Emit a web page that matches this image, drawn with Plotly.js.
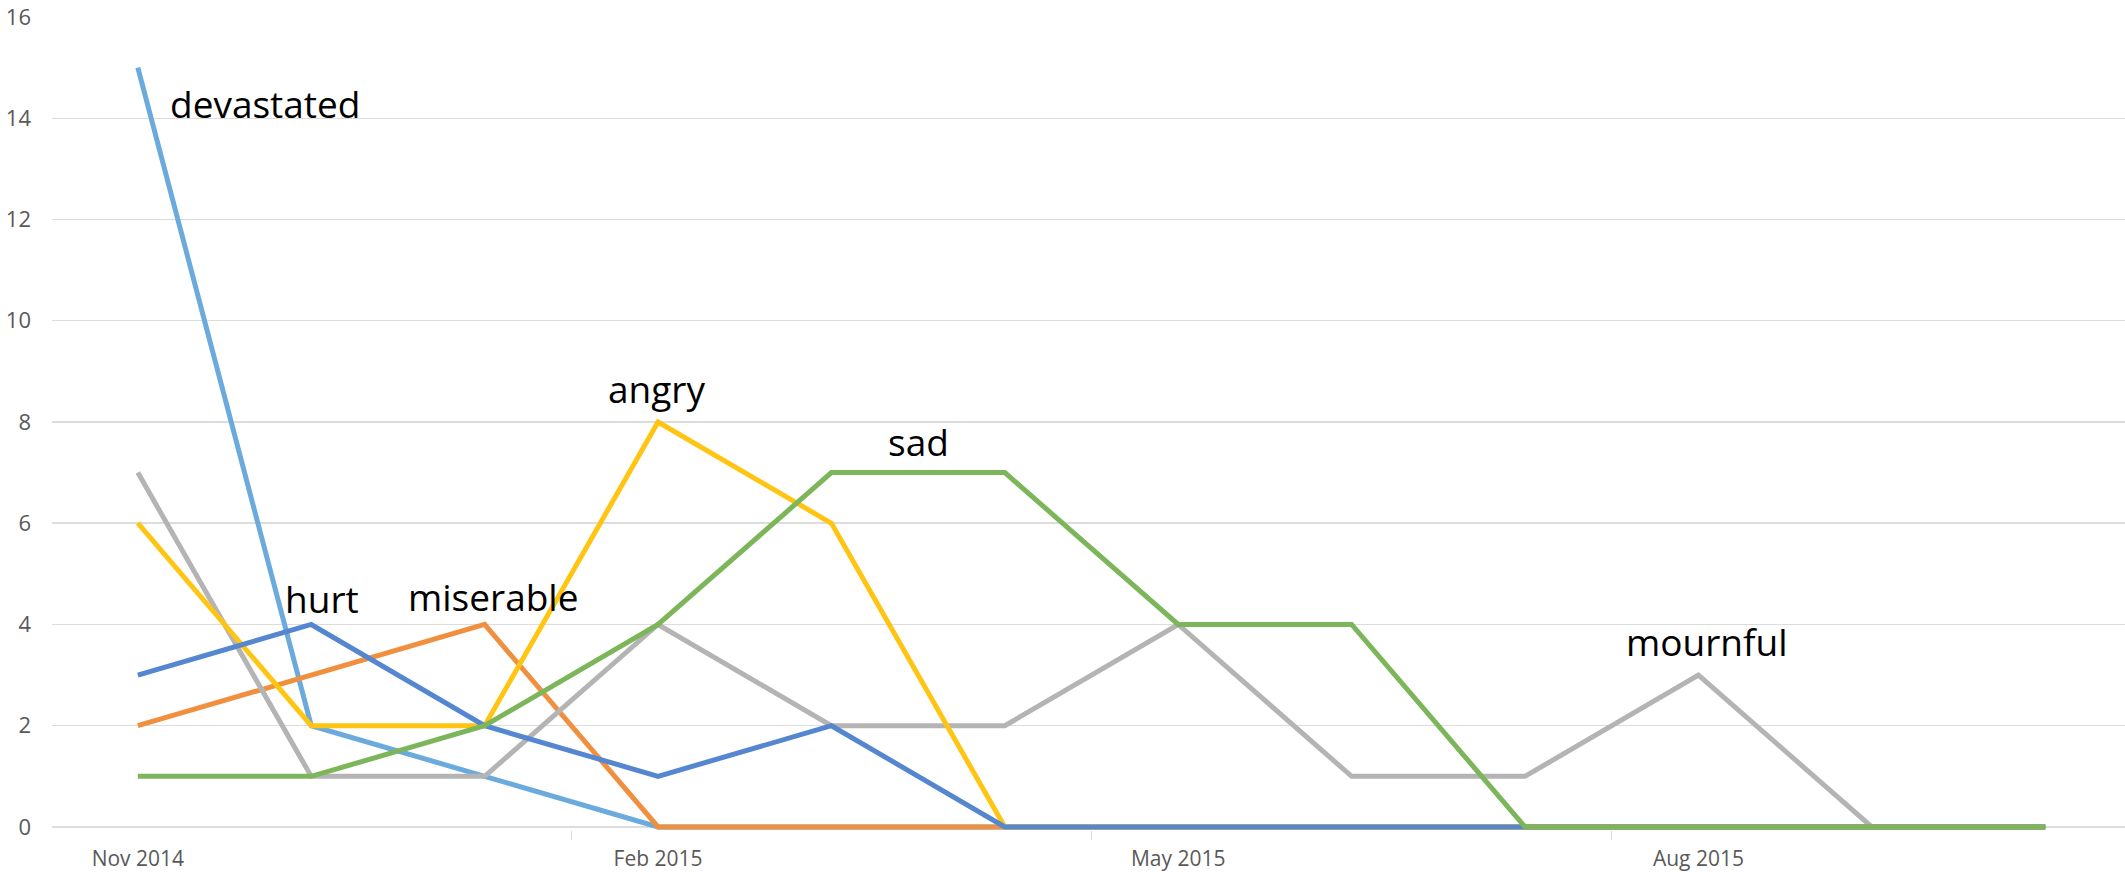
<!DOCTYPE html>
<html>
<head>
<meta charset="utf-8">
<script src="https://cdn.plot.ly/plotly-3.0.1.min.js"></script>
<style>html,body{margin:0;padding:0;background:#fff;}#chart{width:2125px;height:872px;}</style>
</head>
<body>
<div id="chart"></div>
<script>
// Months (index 0 = Nov 2014 ... 11 = Oct 2015)
var months = ["Nov 2014","Dec 2014","Jan 2015","Feb 2015","Mar 2015","Apr 2015","May 2015","Jun 2015","Jul 2015","Aug 2015","Sep 2015","Oct 2015"];
var tickLabelIdx = [0, 3, 6, 9];
var tickLabels = ["Nov 2014", "Feb 2015", "May 2015", "Aug 2015"];

var devastated = [15, 2, 1, 0, 0, 0, 0, 0, 0, 0, 0, 0];
var miserable  = [2, 3, 4, 0, 0, 0, 0, 0, 0, 0, 0, 0];
var mournful   = [7, 1, 1, 4, 2, 2, 4, 1, 1, 3, 0, 0];
var angry      = [6, 2, 2, 8, 6, 0, 0, 0, 0, 0, 0, 0];
var hurt       = [3, 4, 2, 1, 2, 0, 0, 0, 0, 0, 0, 0];
var sad        = [1, 1, 2, 4, 7, 7, 4, 4, 0, 0, 0, 0];

var seriesNames = ["devastated", "miserable", "mournful", "angry", "hurt", "sad"];
var seriesData = [devastated, miserable, mournful, angry, hurt, sad];
var seriesColors = ["#6AAADD", "#F0903F", "#B4B4B4", "#FFC512", "#5586D0", "#7DB65A"];

// label positions (x = month index, y = value) for the text labels
var labelX = [0.735, 2.05, 9.05, 2.99, 1.06, 4.50];
var labelY = [14.3, 4.56, 3.67, 8.66, 4.52, 7.62];

var xIdx = months.map(function(m, i){ return i; });

var traces = seriesData.map(function(d, k){
  return {
    x: xIdx, y: d, type: 'scatter', mode: 'lines', name: seriesNames[k],
    line: {color: seriesColors[k], width: 5},
    hoverinfo: 'skip'
  };
});

var annotations = seriesNames.map(function(n, k){
  return {
    x: labelX[k], y: labelY[k], xref: 'x', yref: 'y', text: n, showarrow: false,
    font: {family: 'Open Sans, sans-serif', size: 37, color: '#000000'}
  };
});

var layout = {
  width: 2125, height: 872,
  margin: {l: 52, r: 0, t: 17, b: 42},
  paper_bgcolor: '#ffffff', plot_bgcolor: '#ffffff',
  showlegend: false,
  xaxis: {
    range: [-0.495, 11.46],
    tickmode: 'array', tickvals: tickLabelIdx, ticktext: tickLabels,
    ticks: '', showgrid: false, zeroline: false, showline: false,
    tickfont: {family: 'Open Sans, sans-serif', size: 21, color: '#595959'},
    ticklabelstandoff: 14,
    minor: {tickmode: 'array', tickvals: [-0.5, 2.5, 5.5, 8.5, 11.5], ticks: 'outside', ticklen: 9, tickcolor: '#d9d9d9', tickwidth: 1.5, showgrid: false}
  },
  yaxis: {
    range: [-0.06, 16.0],
    tickmode: 'array', tickvals: [0,2,4,6,8,10,12,14,16],
    showgrid: true, gridcolor: '#dcdcdc', gridwidth: 1.5,
    zeroline: true, zerolinecolor: '#dcdcdc', zerolinewidth: 1.5,
    showline: false, ticks: '',
    tickfont: {family: 'Open Sans, sans-serif', size: 22, color: '#595959'},
    ticklabelstandoff: 20,
    ticklabeloverflow: 'allow'
  },
  annotations: annotations
};

Plotly.newPlot('chart', traces, layout, {displayModeBar: false, staticPlot: true});
</script>
</body>
</html>
